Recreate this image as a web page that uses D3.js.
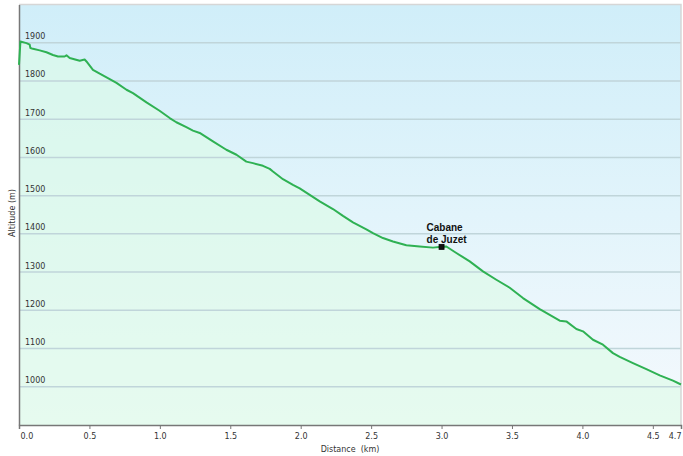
<!DOCTYPE html>
<html>
<head>
<meta charset="utf-8">
<script src="https://cdn.jsdelivr.net/npm/d3@7/dist/d3.min.js"></script>
<style>
  html, body { margin: 0; padding: 0; background: #ffffff; }
  svg { display: block; }
</style>
</head>
<body>
<svg id="chart" width="683" height="456"></svg>
<script>
// ---- Data ----
const distanceKm = [0.000, 0.010, 0.053, 0.076, 0.081, 0.099, 0.147, 0.195, 0.241, 0.277,
  0.324, 0.337, 0.360, 0.431, 0.466, 0.479, 0.525, 0.573, 0.644, 0.692,
  0.763, 0.809, 0.905, 0.998, 1.070, 1.117, 1.188, 1.235, 1.283, 1.377,
  1.472, 1.544, 1.614, 1.661, 1.732, 1.780, 1.803, 1.874, 1.945, 1.993,
  2.064, 2.135, 2.229, 2.300, 2.371, 2.466, 2.513, 2.584, 2.655, 2.750,
  2.845, 2.939, 2.999, 3.034, 3.105, 3.200, 3.247, 3.294, 3.389, 3.484,
  3.578, 3.697, 3.768, 3.839, 3.886, 3.957, 4.004, 4.075, 4.146, 4.217,
  4.265, 4.359, 4.454, 4.549, 4.643, 4.700];
const altitudeM = [1842, 1903, 1899, 1895, 1886, 1884, 1880, 1875, 1868, 1864,
  1864, 1867, 1860, 1853, 1856, 1851, 1829, 1819, 1805, 1795,
  1777, 1768, 1744, 1722, 1703, 1692, 1679, 1670, 1664, 1642,
  1620, 1607, 1589, 1585, 1578, 1570, 1563, 1543, 1528, 1519,
  1502, 1485, 1465, 1447, 1430, 1412, 1402, 1389, 1380, 1370,
  1367, 1364, 1366, 1367, 1350, 1328, 1315, 1302, 1280, 1259,
  1232, 1203, 1188, 1173, 1171, 1151, 1145, 1123, 1110, 1088,
  1078, 1062, 1046, 1030, 1016, 1006];
const xTicks = [0.0, 0.5, 1.0, 1.5, 2.0, 2.5, 3.0, 3.5, 4.0, 4.5, 4.7];
const yTicks = [1000, 1100, 1200, 1300, 1400, 1500, 1600, 1700, 1800, 1900];
const poiDistance = [3.0];
const poiAltitude = [1366];
const poiLabel = [["Cabane", "de Juzet"]];
const xTitle = "Distance  (km)";
const yTitle = "Altitude (m)";

// ---- Layout ----
const pL = 19, pR = 681, pT = 4.5, pB = 425;
const svg = d3.select("#chart");
const x = d3.scaleLinear().domain([0, 4.7]).range([pL, pR]);
const y = d3.scaleLinear().domain([900, 2000]).range([pB, pT]);
const pts = distanceKm.map((d, i) => [d, altitudeM[i]]);

const defs = svg.append("defs");
const bg = defs.append("linearGradient").attr("id", "bg").attr("x1", 0).attr("y1", 0).attr("x2", 0).attr("y2", 1);
bg.append("stop").attr("offset", "0%").attr("stop-color", "#d0eef9");
bg.append("stop").attr("offset", "50%").attr("stop-color", "#e2f4fb");
bg.append("stop").attr("offset", "100%").attr("stop-color", "#f5f9fd");

// background
svg.append("rect").attr("x", pL).attr("y", pT).attr("width", pR - pL).attr("height", pB - pT)
  .attr("fill", "url(#bg)");

// area
const area = d3.area().x(d => x(d[0])).y0(y(900)).y1(d => y(d[1]));
svg.append("path").datum(pts).attr("d", area).attr("fill", "#dcfbe6").attr("fill-opacity", 0.6);

// gridlines
svg.append("g").selectAll("line").data(yTicks).join("line")
  .attr("x1", pL).attr("x2", pR)
  .attr("y1", d => y(d)).attr("y2", d => y(d))
  .attr("stroke", "#c0d5da").attr("stroke-width", 1.5);

// y tick labels (inside plot)
svg.append("g").selectAll("text").data(yTicks).join("text")
  .attr("x", pL + 6).attr("y", d => y(d) - 3.5)
  .attr("font-family", "DejaVu Sans, Verdana, sans-serif").attr("font-size", 8)
  .attr("fill", "#333").text(d => d);

// top / right border
svg.append("path")
  .attr("d", `M${pL},${pT}H${pR}V${pB}`)
  .attr("fill", "none").attr("stroke", "#d6d6d6").attr("stroke-width", 1.5);

// x axis
const xAxis = d3.axisBottom(x).tickValues(xTicks).tickFormat(d3.format(".1f")).tickSize(4).tickPadding(4);
const gx = svg.append("g").attr("transform", `translate(0,${pB})`).call(xAxis);
gx.select(".domain").attr("stroke", "#777").attr("stroke-width", 1.5);
gx.selectAll(".tick line").attr("stroke", "#777");
gx.selectAll(".tick text").attr("font-family", "DejaVu Sans, Verdana, sans-serif").attr("font-size", 8).attr("fill", "#333")
  .attr("text-anchor", (d, i) => i === 0 ? "start" : (i === xTicks.length - 1 ? "end" : "middle"))
  .attr("dx", (d, i) => i === 0 ? 1 : 0);

// y axis line
const yAxis = d3.axisLeft(y).tickValues([]).tickSize(0);
const gy = svg.append("g").attr("transform", `translate(${pL},0)`).call(yAxis);
gy.select(".domain").attr("stroke", "#777").attr("stroke-width", 1.5);

// line
const line = d3.line().x(d => x(d[0])).y(d => y(d[1]));
svg.append("path").datum(pts).attr("d", line)
  .attr("fill", "none").attr("stroke", "#2fb153").attr("stroke-width", 2)
  .attr("stroke-linejoin", "round");

// point of interest
poiDistance.forEach((d, i) => {
  svg.append("rect").attr("x", x(d) - 2.5).attr("y", y(poiAltitude[i]) - 2.5)
    .attr("width", 5).attr("height", 5).attr("fill", "#111").attr("stroke", "#000").attr("stroke-width", 0.8);
  const t = svg.append("text").attr("x", x(d) - 15).attr("y", y(poiAltitude[i]) - 15.5)
    .attr("font-family", "Liberation Sans, Arial, sans-serif").attr("font-size", 10)
    .attr("font-weight", "bold").attr("fill", "#111");
  poiLabel[i].forEach((s, j) => t.append("tspan").attr("x", x(d) - 15).attr("dy", j === 0 ? 0 : 12).text(s));
});

// titles
svg.append("text").attr("x", (pL + pR) / 2).attr("y", 452)
  .attr("text-anchor", "middle").attr("font-family", "DejaVu Sans, Verdana, sans-serif")
  .attr("font-size", 8).attr("fill", "#333").attr("xml:space", "preserve").style("white-space", "pre").text(xTitle);
svg.append("text").attr("transform", `translate(15,213) rotate(-90)`)
  .attr("text-anchor", "middle").attr("font-family", "DejaVu Sans, Verdana, sans-serif")
  .attr("font-size", 8).attr("fill", "#333").text(yTitle);
</script>
</body>
</html>
